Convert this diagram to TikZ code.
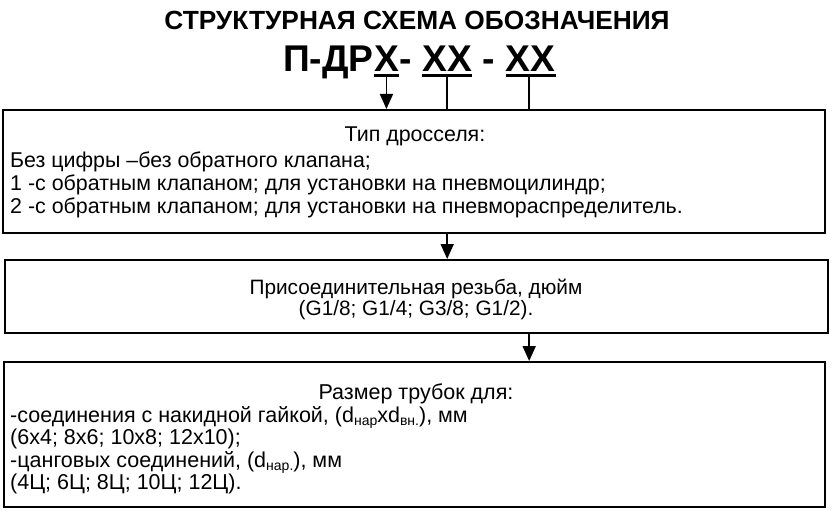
\documentclass[tikz,border=0pt]{standalone}
\usepackage{fontspec}
\setmainfont{Liberation Sans}
\usetikzlibrary{arrows.meta,calc}
\newcommand\sbs[1]{\raisebox{-0.35ex}{\fontsize{14}{14}\selectfont #1}}
\begin{document}
\begin{tikzpicture}[x=1pt,y=-1pt,
  box/.style={draw,line width=2pt,inner sep=0pt},
  txt/.style={inner sep=0pt,font=\fontsize{21.4}{24}\selectfont},
  ntxt/.style={inner sep=0pt,font=\fontsize{20.8}{24}\selectfont},
  mtxt/.style={inner sep=0pt,font=\fontsize{21.5}{24}\selectfont},
  ttl/.style={inner sep=0pt,font=\bfseries\fontsize{26.3}{30}\selectfont},
  code/.style={inner sep=0pt,font=\bfseries\fontsize{37.2}{40}\selectfont},
  uline/.style={line width=3pt},
  link/.style={line width=1.8pt},
  arr/.style={line width=1.8pt,-{Triangle[width=13pt,length=15pt]}}]
\useasboundingbox (0,0) rectangle (834,516);
% boxes
\node[box,minimum width=822pt,minimum height=123pt] (b1) at (414,171.5) {};
\node[box,minimum width=823pt,minimum height=73pt] (b2) at (416.5,296.5) {};
\node[box,minimum width=821pt,minimum height=145pt] (b3) at (414.5,434.5) {};
% title
\node[ttl,anchor=base] (t1) at (417,30) {СТРУКТУРНАЯ СХЕМА ОБОЗНАЧЕНИЯ};
\node[code,anchor=base west] (c0) at (283,72) {П-ДР};
\node[code,anchor=base west] (x1) at (c0.base east) {Х};
\node[code,anchor=base west] (c1) at (x1.base east) {-\ \mbox{}};
\node[code,anchor=base west] (x2) at (c1.base east) {ХХ};
\node[code,anchor=base west] (c2) at (x2.base east) {\mbox{}\ -\ \mbox{}};
\node[code,anchor=base west] (x3) at (c2.base east) {ХХ};
\draw[uline] ($(x1.base west)+(0,3.5)$) -- ($(x1.base east)+(0,3.5)$);
\draw[uline] ($(x2.base west)+(0,3.5)$) -- ($(x2.base east)+(0,3.5)$);
\draw[uline] ($(x3.base west)+(0,3.5)$) -- ($(x3.base east)+(0,3.5)$);
\coordinate (u1) at ($(x1.base)+(0,5)$);
\coordinate (u2) at ($(x2.base)+(0,5)$);
\coordinate (u3) at ($(x3.base)+(-1.5,5)$);
\draw[arr] (u1) -- (u1 |- b1.north);
\draw[link] (u2) -- (u2 |- b1.north);
\draw[link] (u3) -- (u3 |- b1.north);
\draw[arr] (u2 |- b1.south) -- (u2 |- b2.north);
\draw[arr] (u3 |- b2.south) -- (u3 |- b3.north);
% box 1 text
\node[txt,anchor=base] (p1) at (415,141.5) {Тип дросселя:};
\node[txt,anchor=base west] (p2) at (10,167) {Без цифры –без обратного клапана;};
\node[txt,anchor=base west] (p3) at (10,190.3) {1 -с обратным клапаном; для установки на пневмоцилиндр;};
\node[txt,anchor=base west] (p4) at (10,213.6) {2 -с обратным клапаном; для установки на пневмораспределитель.};
% box 2 text
\node[ntxt,anchor=base] (q1) at (416,294) {Присоединительная резьба, дюйм};
\node[ntxt,anchor=base] (q2) at (416,315.7) {(G1/8; G1/4; G3/8; G1/2).};
% box 3 text
\node[mtxt,anchor=base] (r1) at (416,399.5) {Размер трубок для:};
\node[mtxt,anchor=base west] (r2) at (10,422) {-соединения с накидной гайкой, (d\sbs{нар}xd\sbs{вн.}), мм};
\node[mtxt,anchor=base west] (r3) at (10,444.5) {(6x4; 8x6; 10x8; 12x10);};
\node[mtxt,anchor=base west] (r4) at (10,467) {-цанговых соединений, (d\sbs{нар.}), мм};
\node[mtxt,anchor=base west] (r5) at (10,489.5) {(4Ц; 6Ц; 8Ц; 10Ц; 12Ц).};
\end{tikzpicture}
\end{document}
